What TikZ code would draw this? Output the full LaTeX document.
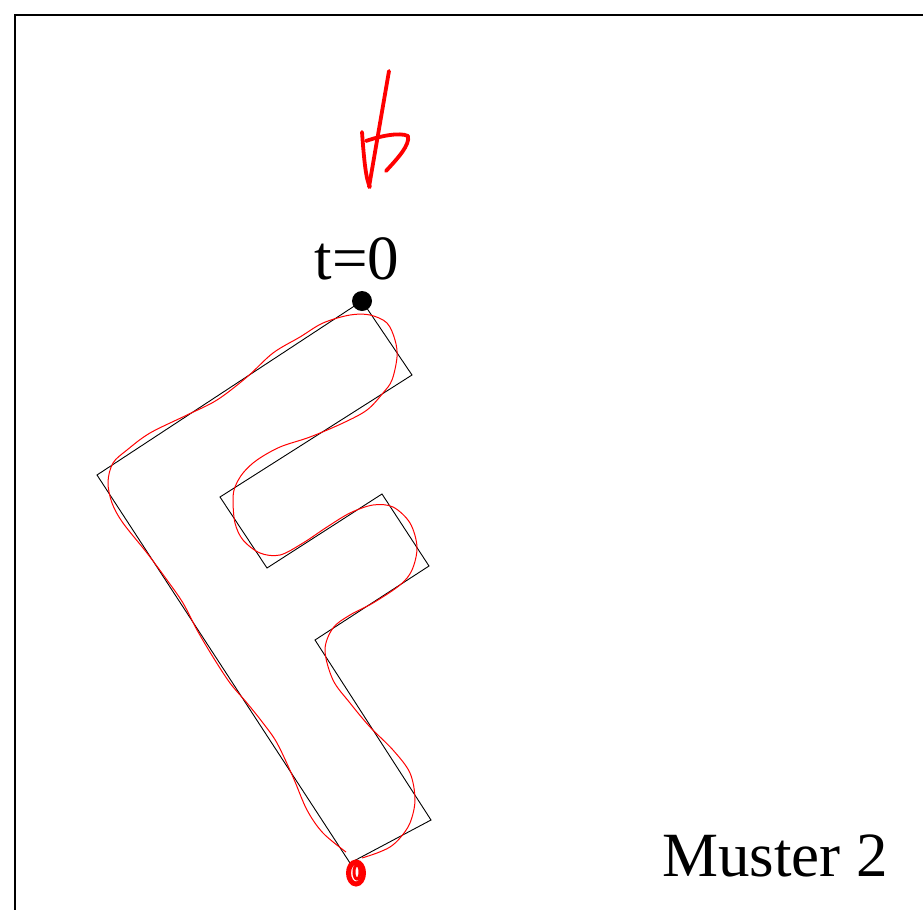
\documentclass[tikz,border=0pt]{standalone}
\usepackage{fontspec}
\setmainfont{Liberation Serif}
\begin{document}
\begin{tikzpicture}[x=1pt,y=-1pt,
  frameline/.style={line width=1.6pt,black},
  outline/.style={line width=0.9pt,black,line join=miter},
  approx/.style={line width=1pt,red},
  scribble/.style={line width=3.8pt,red,line cap=round,line join=round},
  label/.style={font=\fontsize{63}{63}\selectfont,inner sep=0pt}]
\useasboundingbox (0,0) rectangle (923,910);
% frame (only top and left edges visible)
\draw[frameline] (923,15) -- (15,15) -- (15,910);
% F outline
\coordinate (p1) at (362,301);
\coordinate (p2) at (412,375);
\coordinate (p3) at (220,497);
\coordinate (p4) at (267,568);
\coordinate (p5) at (382,494);
\coordinate (p6) at (429,566);
\coordinate (p7) at (315,640);
\coordinate (p8) at (431,820);
\coordinate (p9) at (350,863);
\coordinate (p10) at (97,475);
\draw[outline] (p1) -- (p2) -- (p3) -- (p4) -- (p5) -- (p6) -- (p7) -- (p8) -- (p9) -- (p10) -- cycle;
% red approximation curve
\draw[approx] plot[smooth,tension=0.55] coordinates {
 (346,852) (323,833) (307,810) (293,777) (277,743) (263,723) (247,703) (230,683)
 (213,657) (197,630) (183,603) (167,580) (147,553) (123,523) (112,503) (108,482)
 (113,463) (127,450) (150,433) (187,415) (217,400) (247,377) (273,353) (300,337)
 (323,323) (350,315) (370,315) (387,323) (395,340) (397,357) (392,380) (383,393)
 (367,410) (343,423) (310,437) (280,447) (257,460) (243,473) (235,487) (233,500)
 (235,523) (243,540) (260,553) (280,555) (303,543) (327,527) (350,513) (373,505)
 (393,507) (410,523) (417,547) (412,570) (400,585) (373,603) (350,615) (333,628)
 (325,650) (333,680) (350,703) (370,727) (393,750) (410,773) (415,800) (410,823)
 (400,838) (390,847) (377,853) (362,858)};
% start point
\node[circle,fill=black,inner sep=0pt,minimum size=20pt] (start) at (p1) {};
\node[label,anchor=base] (t0) at (357,279) {t=0};
% red scribbles
\draw[scribble] (389,71) -- (369,187);
\draw[scribble] (362,132) .. controls (364,160) and (366,180) .. (370,187);
\draw[scribble] (366,141) .. controls (380,136) and (400,132) .. (408,136) .. controls (410,145) and (398,158) .. (386,171);
\draw[red,line width=5pt] (356,873) ellipse [x radius=7.5pt, y radius=11pt];
\draw[red,line width=3pt] (357,872) ellipse [x radius=3pt, y radius=7pt];
% caption
\node[label,anchor=base west] (caption) at (662,876) {Muster 2};
\end{tikzpicture}
\end{document}
